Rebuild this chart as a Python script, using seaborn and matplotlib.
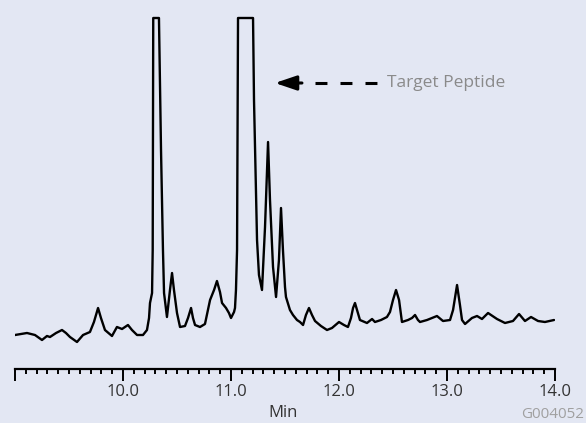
import numpy as np
import pandas as pd
import matplotlib
matplotlib.use("Agg")
import matplotlib.pyplot as plt
import seaborn as sns

# retention time (min) and detector response
retention_time = [
    9.000, 9.111, 9.185, 9.250, 9.296, 9.324, 9.380, 9.435, 9.472, 9.509,
    9.574, 9.630, 9.694, 9.731, 9.769, 9.796, 9.833, 9.898, 9.944, 9.991,
    10.046, 10.083, 10.130, 10.185, 10.222, 10.241, 10.250, 10.269, 10.275, 10.280,
    10.333, 10.352, 10.370, 10.380, 10.407, 10.435, 10.454, 10.472, 10.500, 10.528,
    10.574, 10.602, 10.630, 10.648, 10.667, 10.713, 10.759, 10.806, 10.843, 10.870,
    10.898, 10.917, 10.954, 10.981, 11.000, 11.028, 11.037, 11.046, 11.056, 11.065,
    11.204, 11.213, 11.241, 11.259, 11.287, 11.315, 11.343, 11.361, 11.389, 11.417,
    11.444, 11.463, 11.481, 11.500, 11.509, 11.546, 11.574, 11.611, 11.639, 11.667,
    11.694, 11.722, 11.750, 11.778, 11.833, 11.889, 11.935, 12.000, 12.046, 12.083,
    12.111, 12.130, 12.148, 12.167, 12.194, 12.259, 12.306, 12.333, 12.389, 12.444,
    12.472, 12.500, 12.528, 12.556, 12.583, 12.639, 12.676, 12.704, 12.731, 12.750,
    12.815, 12.861, 12.907, 12.963, 13.028, 13.056, 13.093, 13.120, 13.139, 13.167,
    13.231, 13.278, 13.324, 13.380, 13.463, 13.537, 13.611, 13.667, 13.722, 13.778,
    13.843, 13.907, 13.991,
]
response = [
    5, 7, 5, 0, 4, 3, 7, 10, 7, 3,
    -2, 5, 8, 18, 32, 22, 10, 4, 13, 11,
    15, 10, 5, 5, 10, 22, 37, 47, 90, 322,
    322, 190, 90, 47, 23, 50, 67, 50, 27, 13,
    14, 22, 32, 22, 15, 13, 16, 40, 50, 59,
    48, 37, 32, 27, 22, 28, 32, 50, 90, 322,
    322, 240, 100, 65, 50, 113, 198, 140, 73, 43,
    80, 132, 90, 53, 43, 30, 25, 20, 18, 15,
    25, 32, 25, 19, 14, 10, 12, 18, 15, 13,
    22, 32, 37, 30, 20, 17, 21, 18, 20, 23,
    28, 40, 50, 40, 18, 20, 22, 25, 20, 18,
    20, 22, 24, 19, 20, 30, 55, 35, 20, 16,
    22, 24, 21, 27, 21, 17, 19, 26, 19, 23,
    19, 18, 20,
]

major_ticks = [9.0, 10.0, 11.0, 12.0, 13.0, 14.0]
major_labels = ["", "10.0", "11.0", "12.0", "13.0", "14.0"]

bg = "#e3e7f3"
sns.set_theme(style="white")
plt.rcParams["font.family"] = ["Open Sans", "DejaVu Sans"]
plt.rcParams["lines.scale_dashes"] = False

df = pd.DataFrame({"Min": retention_time, "Response": response})

fig = plt.figure(figsize=(5.86, 4.23), dpi=100)
fig.patch.set_facecolor(bg)
ax = fig.add_axes([15 / 586, 54 / 423, 540 / 586, 369 / 423])
ax.set_facecolor(bg)

sns.lineplot(data=df, x="Min", y="Response", sort=False, estimator=None,
             color="black", linewidth=1.7, ax=ax)
ax.lines[0].set_solid_joinstyle("round")
ax.lines[0].set_solid_capstyle("round")

ax.set_xlim(9.0, 14.0)
ax.set_ylim(-29, 340)
for side in ["left", "top", "right"]:
    ax.spines[side].set_visible(False)
ax.spines["bottom"].set_color("black")
ax.spines["bottom"].set_linewidth(1.6)
ax.set_yticks([])
ax.set_xticks(major_ticks)
ax.set_xticklabels(major_labels)
ax.set_xticks(np.arange(9.0, 14.01, 0.1), minor=True)
ax.tick_params(axis="x", which="major", direction="out", length=8.6, width=1.4,
               color="black", pad=2.5, labelsize=12, labelcolor="#333333", bottom=True)
ax.tick_params(axis="x", which="minor", direction="out", length=3.8, width=1.4,
               color="black", bottom=True)
ax.set_xlabel("")
ax.set_ylabel("")

# target peptide call-out
ax.plot([11.778, 12.352], [257, 257], color="black", linewidth=2.2,
        dashes=(8.6, 9.4), solid_capstyle="butt")
ax.annotate("", xy=(11.407, 257), xytext=(11.657, 257),
            arrowprops=dict(arrowstyle="-|>,head_length=0.65,head_width=0.22",
                            mutation_scale=20, color="black", lw=2.2,
                            shrinkA=0, shrinkB=0))
ax.text(12.44, 257, "Target Peptide", color="#8a8a8a", fontsize=12.5,
        ha="left", va="center")

fig.text(283 / 586, 1 - 413 / 423, "Min", color="#333333", fontsize=12,
         ha="center", va="center")
fig.text(584 / 586, 1 - 414 / 423, "G004052", color="#a0a0a0", fontsize=11,
         ha="right", va="center")

fig.savefig("out.png", dpi=100, facecolor=bg)
